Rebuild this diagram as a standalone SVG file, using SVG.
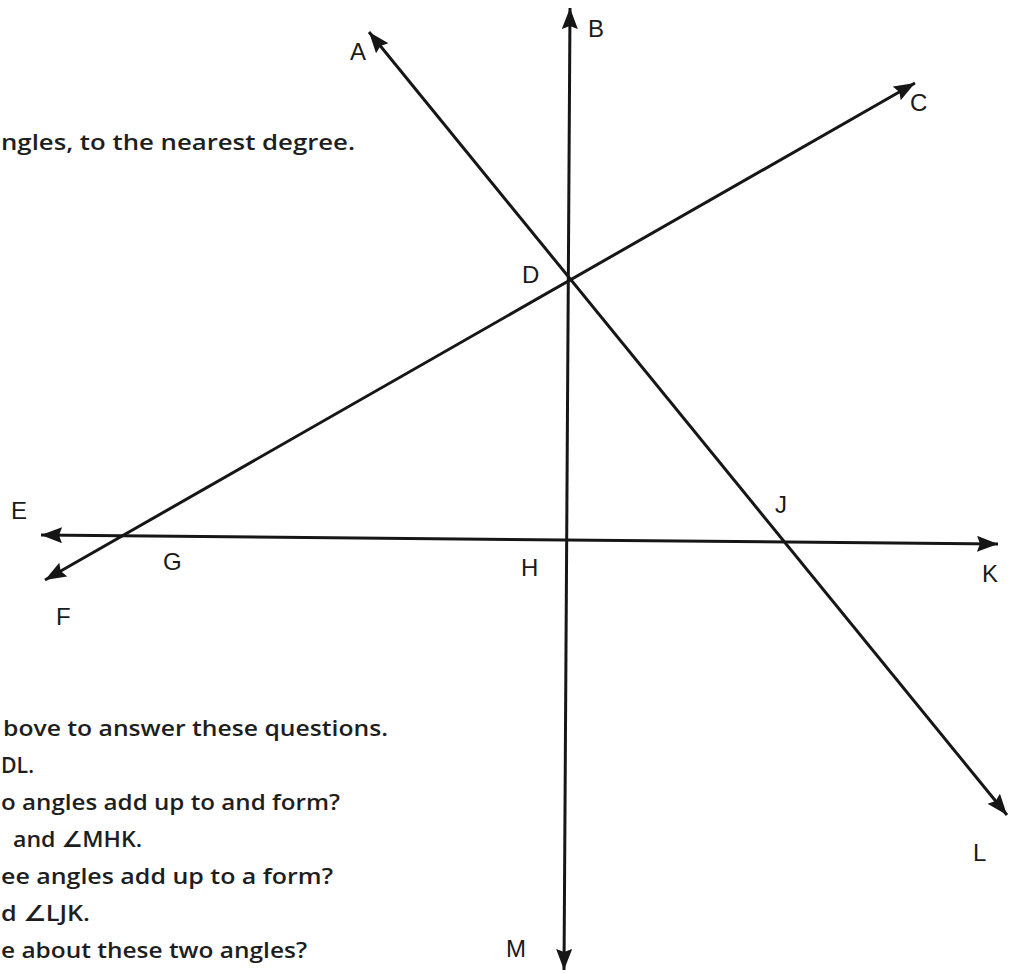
<svg xmlns="http://www.w3.org/2000/svg" width="1011" height="973" viewBox="0 0 1011 973">
  <style>
    .ln { stroke: #161616; stroke-width: 3; fill: none; marker-start: url(#ah); marker-end: url(#ah); }
    .lbl { font-family: "Liberation Sans", Arial, sans-serif; font-size: 24px; fill: #1a1a1a; }
    .txt { font-family: "Open Sans", "DejaVu Sans", sans-serif; font-size: 22px; font-weight: 600; fill: #1e1e1e; }
  </style>
  <defs>
    <marker id="ah" markerUnits="userSpaceOnUse" markerWidth="24" markerHeight="18" refX="21" refY="8" orient="auto-start-reverse" viewBox="0 0 24 18">
      <path d="M0,0 L21,8 L0,16 L3,8 Z" fill="#161616"/>
    </marker>
  </defs>
  <rect width="1011" height="973" fill="#ffffff"/>

  <g id="connectors">
    <line id="line-BM" class="ln" x1="570" y1="8" x2="564" y2="970"/>
    <line id="line-AL" class="ln" x1="369" y1="32" x2="1007" y2="815"/>
    <line id="line-FC" class="ln" x1="45" y1="580" x2="915" y2="83"/>
    <line id="line-EK" class="ln" x1="41" y1="535" x2="998" y2="544"/>
  </g>

  <g id="node-A"><text class="lbl" x="350" y="60">A</text></g>
  <g id="node-B"><text class="lbl" x="588" y="37">B</text></g>
  <g id="node-C"><text class="lbl" x="910" y="111">C</text></g>
  <g id="node-D"><text class="lbl" x="522" y="283">D</text></g>
  <g id="node-E"><text class="lbl" x="11" y="519">E</text></g>
  <g id="node-F"><text class="lbl" x="56" y="625">F</text></g>
  <g id="node-G"><text class="lbl" x="163" y="570">G</text></g>
  <g id="node-H"><text class="lbl" x="521" y="576">H</text></g>
  <g id="node-J"><text class="lbl" x="775" y="513">J</text></g>
  <g id="node-K"><text class="lbl" x="982" y="582">K</text></g>
  <g id="node-L"><text class="lbl" x="973" y="861">L</text></g>
  <g id="node-M"><text class="lbl" x="506" y="957">M</text></g>

  <g id="text-top">
    <text class="txt" x="1" y="150" textLength="354" lengthAdjust="spacingAndGlyphs">ngles, to the nearest degree.</text>
  </g>
  <g id="text-questions">
    <text class="txt" x="3" y="736" textLength="385" lengthAdjust="spacingAndGlyphs">bove to answer these questions.</text>
    <text class="txt" x="1" y="773" textLength="33" lengthAdjust="spacingAndGlyphs">DL.</text>
    <text class="txt" x="1" y="810" textLength="339" lengthAdjust="spacingAndGlyphs">o angles add up to and form?</text>
    <text class="txt" x="13" y="847" textLength="129" lengthAdjust="spacingAndGlyphs">and ∠MHK.</text>
    <text class="txt" x="1" y="884" textLength="332" lengthAdjust="spacingAndGlyphs">ee angles add up to a form?</text>
    <text class="txt" x="1" y="921" textLength="89" lengthAdjust="spacingAndGlyphs">d ∠LJK.</text>
    <text class="txt" x="1" y="958" textLength="306" lengthAdjust="spacingAndGlyphs">e about these two angles?</text>
  </g>
</svg>
